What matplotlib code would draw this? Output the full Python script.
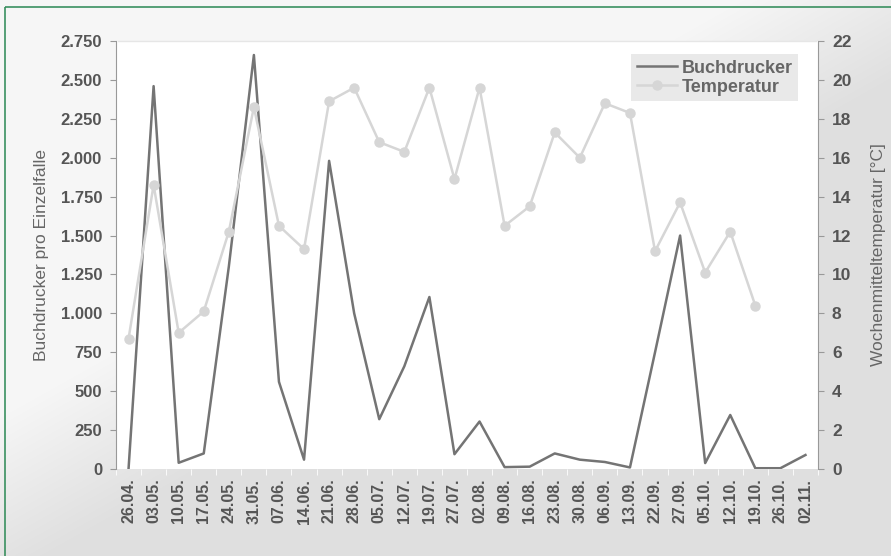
import numpy as np
import matplotlib
matplotlib.use("Agg")
import matplotlib.pyplot as plt
from matplotlib.ticker import FuncFormatter, FixedLocator
from matplotlib.patches import Rectangle

dates = ["26.04.", "03.05.", "10.05.", "17.05.", "24.05.", "31.05.", "07.06.",
         "14.06.", "21.06.", "28.06.", "05.07.", "12.07.", "19.07.", "27.07.",
         "02.08.", "09.08.", "16.08.", "23.08.", "30.08.", "06.09.", "13.09.",
         "22.09.", "27.09.", "05.10.", "12.10.", "19.10.", "26.10.", "02.11."]
buchdrucker = [0, 2460, 40, 100, 1300, 2660, 560, 60, 1980, 1000, 320, 660, 1105,
               95, 305, 12, 15, 100, 60, 45, 10, 750, 1500, 38, 347, 5, 5, 90]
temperatur = [6.7, 14.6, 7.0, 8.1, 12.2, 18.6, 12.5, 11.3, 18.9, 19.6, 16.8, 16.3,
              19.6, 14.9, 19.6, 12.5, 13.5, 17.3, 16.0, 18.8, 18.3, 11.2, 13.7,
              10.1, 12.2, 8.4, np.nan, np.nan]
left_ticks = [0, 250, 500, 750, 1000, 1250, 1500, 1750, 2000, 2250, 2500, 2750]
right_ticks = [0, 2, 4, 6, 8, 10, 12, 14, 16, 18, 20, 22]

plt.rcParams['font.family'] = ['Liberation Sans', 'DejaVu Sans']

W, H = 891, 556
fig = plt.figure(figsize=(W / 100, H / 100), dpi=100)

# background gradient
bg = fig.add_axes([0, 0, 1, 1], zorder=-10)
yy, xx = np.mgrid[0:H, 0:W]
t = np.clip(((xx / W) * 0.9 + (yy / H) - 0.75) / 0.3, 0, 1)
c = 0.965 - 0.09 * t
bg.imshow(np.dstack([c, c, c]), extent=[0, W, H, 0], aspect='auto')
bg.add_patch(Rectangle((5, 7), W + 10, H + 10, fill=False, edgecolor='#3a9060', lw=1.2))
bg.set_xlim(0, W)
bg.set_ylim(H, 0)
bg.axis('off')

x = np.arange(len(dates))
ax = fig.add_axes([116 / W, (H - 469) / H, (818 - 116) / W, (469 - 41) / H])
ax.set_facecolor('white')
l1, = ax.plot(x, buchdrucker, color='#747474', lw=1.8, label='Buchdrucker')
ax.set_xlim(-0.44, 27.44)
ax.set_ylim(0, 2750)
ax.yaxis.set_major_locator(FixedLocator(left_ticks))
ax.yaxis.set_major_formatter(FuncFormatter(lambda v, p: f"{int(v):,}".replace(",", ".")))
ax.set_xticks(x)
ax.set_xticklabels(dates, rotation=90, fontweight='bold')
ax.set_xticks(np.arange(-0.5, 28, 1), minor=True)
ax.tick_params(axis='x', which='major', length=0, pad=7, labelsize=11.5, labelcolor='#555555')
ax.tick_params(axis='x', which='minor', length=4, color='white', direction='out')
ax.tick_params(axis='y', length=4, color='#999999', labelsize=12, labelcolor='#555555', pad=6)
for lbl in ax.get_yticklabels():
    lbl.set_fontweight('bold')
for s in ['top', 'right']:
    ax.spines[s].set_visible(False)
ax.spines['bottom'].set_visible(False)
ax.spines['left'].set_color('#999999')
ax.plot([-0.44, 27.44], [2750, 2750], color='#e6e6e6', lw=1, clip_on=False)
ax.set_ylabel('Buchdrucker pro Einzelfalle', fontsize=12.5, color='#666666', labelpad=8)

ax2 = ax.twinx()
l2, = ax2.plot(x, temperatur, color='#d6d6d6', lw=1.8, marker='o', markersize=6.5,
               markerfacecolor='#d6d6d6', markeredgecolor='#d6d6d6', label='Temperatur')
ax2.set_ylim(0, 22)
ax2.yaxis.set_major_locator(FixedLocator(right_ticks))
for s in ['top', 'left', 'bottom']:
    ax2.spines[s].set_visible(False)
ax2.spines['right'].set_color('#999999')
ax2.tick_params(axis='y', length=4, color='#999999', labelsize=12.5, labelcolor='#555555', pad=6)
for lbl in ax2.get_yticklabels():
    lbl.set_fontweight('bold')
ax2.set_ylabel('Wochenmitteltemperatur [°C]', fontsize=12.5, color='#666666', rotation=90, labelpad=14)

leg = ax2.legend(handles=[l1, l2], loc='upper right', bbox_to_anchor=(0.985, 0.99),
                 frameon=True, fancybox=False, prop={'size': 13, 'weight': 'bold'},
                 handlelength=2.2, handletextpad=0.3, borderpad=0.3, labelspacing=0.1)
leg.get_frame().set_facecolor('#e9e9e9')
leg.get_frame().set_edgecolor('none')
leg.get_frame().set_alpha(1)
for txt in leg.get_texts():
    txt.set_color('#666666')

fig.savefig('out.png', dpi=100)
